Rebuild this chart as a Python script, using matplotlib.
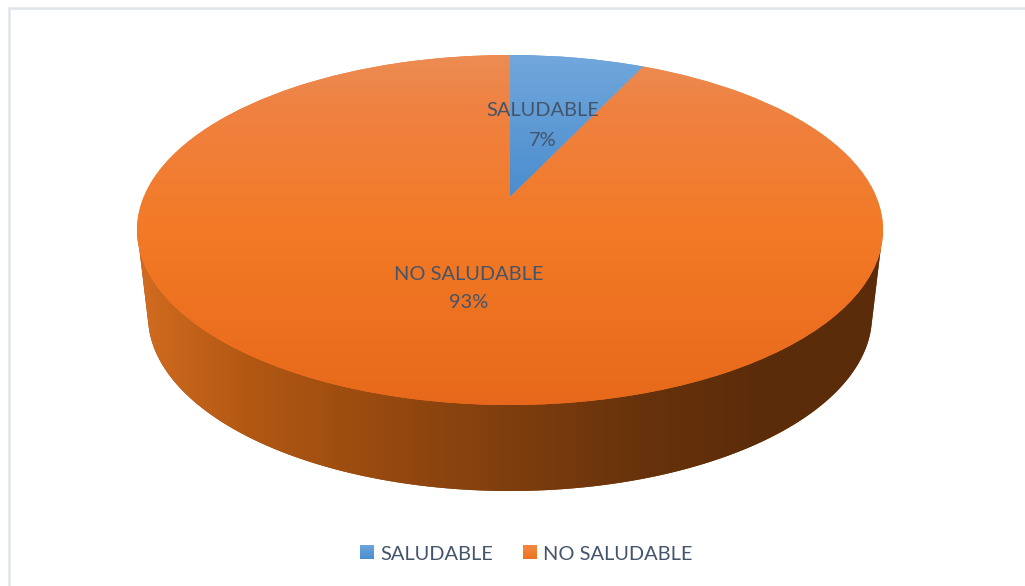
import matplotlib
matplotlib.use('Agg')
import matplotlib.pyplot as plt
import numpy as np
from matplotlib.colors import LinearSegmentedColormap
from matplotlib.patches import Polygon
from matplotlib.transforms import Transform

plt.rcParams['font.family'] = ['Lato', 'DejaVu Sans']

categories = ['SALUDABLE', 'NO SALUDABLE']
percentages = [7, 93]

TEXT = '#44546a'
FONT_SIZE = 14.4
CX, CY, RX, RY = 510, 230, 373, 175
APEX_SHIFT = 33 / 175  # perspective moves the pie centre up from the ellipse centre
BOTTOM_CY, BOTTOM_RX = 316, 362


class Perspective(Transform):
    # unit circle of ax.pie -> tilted disc, in image pixels
    input_dims = 2
    output_dims = 2

    def transform_non_affine(self, values):
        u, v = values[:, 0], values[:, 1]
        d = 1 + APEX_SHIFT * v
        x = CX + RX * u * np.sqrt(1 - APEX_SHIFT ** 2) / d
        y = CY - RY * (v + APEX_SHIFT) / d
        return np.column_stack([x, y])


def gradient(ax, stops, extent, horizontal=False, zorder=1):
    lo, hi = (extent[0], extent[1]) if horizontal else (extent[3], extent[2])
    cmap = LinearSegmentedColormap.from_list(
        'g', [((p - lo) / (hi - lo), c) for p, c in stops])
    ramp = np.linspace(0, 1, 512)
    ramp = ramp[None, :] if horizontal else ramp[:, None]
    return ax.imshow(ramp, cmap=cmap, extent=extent, aspect='auto',
                     origin='upper', zorder=zorder, interpolation='bilinear')


fig = plt.figure(figsize=(10.25, 5.86), dpi=100)
ax = fig.add_axes([0, 0, 1, 1])

# side of the cylinder
t = np.linspace(0.06, np.pi - 0.06, 300)
side_xy = np.column_stack([CX + BOTTOM_RX * np.cos(t), BOTTOM_CY + RY * np.sin(t)])
side_xy = np.vstack([[[CX + RX, CY]], side_xy, [[CX - RX, CY]]])
side = Polygon(side_xy, closed=True, facecolor='#8a430f', edgecolor='none', zorder=1)
ax.add_patch(side)
side_im = gradient(ax, [(137, '#d26c20'), (245, '#b35813'), (400, '#93480f'),
                        (510, '#7f3e0e'), (650, '#66320b'), (760, '#5c2c0a'),
                        (884, '#5b2c0a')],
                   (137, 884, 495, 225), horizontal=True, zorder=1.5)
side_im.set_clip_path(side)

# top of the pie
wedges, _ = ax.pie(percentages, startangle=90, counterclock=False,
                   colors=['#5b9bd5', '#f07a28'], radius=1, center=(0, 0))
to_pixels = Perspective() + ax.transData
top_stops = [
    [(50, '#72a8dc'), (197, '#4a8dce'), (410, '#4a8dce')],
    [(50, '#ec8d55'), (110, '#ef8140'), (230, '#f37a26'), (410, '#e7681a')],
]
for wedge, stops in zip(wedges, top_stops):
    wedge.set_transform(to_pixels)
    wedge.set_zorder(2)
    im = gradient(ax, stops, (130, 890, 410, 50), zorder=3)
    im.set_clip_path(wedge)

# data labels
label_xy = [(543, 111), (469, 274)]
for name, pct, (x, y) in zip(categories, percentages, label_xy):
    ax.text(x, y, name, color=TEXT, fontsize=FONT_SIZE, ha='center', va='center', zorder=5)
    ax.text(x, y + 29, f'{pct}%', color=TEXT, fontsize=FONT_SIZE, ha='center', va='center', zorder=5)

# chart frame, only top and left are inside the crop
ax.plot([9, 9, 1025], [586, 8, 8], color='#dfe4e9', lw=1.8, zorder=0, solid_joinstyle='miter')

leg = ax.legend(wedges, categories, loc='center', bbox_to_anchor=(526.5, 554),
                bbox_transform=ax.transData, ncol=2, frameon=False, fontsize=FONT_SIZE,
                labelcolor=TEXT, handlelength=0.68, handleheight=0.68, handletextpad=0.36,
                columnspacing=1.45, borderpad=0)

ax.set_xlim(0, 1025)
ax.set_ylim(586, 0)
ax.set_axis_off()

# legend swatches have the same vertical shading as the slices
fig.canvas.draw()
swatch_stops = [('#6ea6dc', '#4a8dce'), ('#f48a42', '#ec7320')]
for patch, (c0, c1) in zip(leg.get_patches(), swatch_stops):
    box = patch.get_window_extent()
    y0, y1 = 586 - box.y1, 586 - box.y0
    gradient(ax, [(y0, c0), (y1, c1)], (box.x0, box.x1, y1, y0), zorder=6)

ax.set_xlim(0, 1025)
ax.set_ylim(586, 0)

fig.savefig('out.png', dpi=100)
